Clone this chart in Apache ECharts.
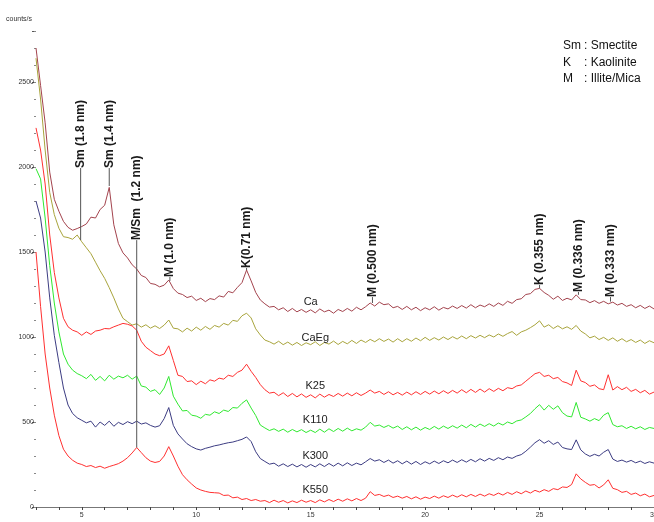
<!DOCTYPE html>
<html>
<head>
<meta charset="utf-8">
<script src="https://cdn.jsdelivr.net/npm/echarts@6/dist/echarts.min.js"></script>
<style>
html, body { margin: 0; padding: 0; background: #fff; }
#chart { width: 654px; height: 522px; }
</style>
</head>
<body>
<div id="chart"></div>
<script>
// 2-theta grid, 3.0 .. 30.0 in 0.2 deg steps (136 points)
var thetaStart = 3.0, thetaStep = 0.2, thetaCount = 136;
var twoTheta = [];
for (var i = 0; i < thetaCount; i++) {
	twoTheta.push(+(thetaStart + i * thetaStep).toFixed(1));
}

// counts/s, one row = 2 degrees
var ca = [
	2700, 2480, 2260, 1970, 1810, 1740, 1680, 1645, 1628, 1638,
	1650, 1665, 1705, 1700, 1750, 1775, 1880, 1660, 1550, 1495,
	1465, 1425, 1400, 1362, 1350, 1315, 1310, 1295, 1305, 1335,
	1285, 1258, 1250, 1232, 1240, 1215, 1228, 1208, 1226, 1220,
	1242, 1235, 1268, 1260, 1292, 1320, 1394, 1330, 1262, 1218,
	1195, 1176, 1180, 1160, 1172, 1150, 1168, 1148, 1162, 1145,
	1160, 1142, 1165, 1148, 1158, 1140, 1162, 1150, 1168, 1152,
	1175, 1160, 1178, 1200, 1182, 1205, 1190, 1195, 1172, 1180,
	1162, 1180, 1160, 1175, 1155, 1172, 1160, 1178, 1158, 1174,
	1165, 1182, 1168, 1185, 1170, 1190, 1172, 1188, 1178, 1195,
	1180, 1200, 1186, 1210, 1198, 1220, 1225, 1250, 1255, 1280,
	1286, 1262, 1245, 1222, 1240, 1215, 1228, 1218, 1248, 1220,
	1218, 1202, 1214, 1198, 1210, 1195, 1205, 1188, 1198, 1180,
	1190, 1172, 1186, 1168, 1182, 1165
];
var caEg = [
	2640, 2400, 2100, 1850, 1720, 1640, 1590, 1585, 1575, 1600,
	1560, 1525, 1490, 1440, 1390, 1345, 1290, 1230, 1165, 1110,
	1090, 1070, 1078, 1058, 1072, 1052, 1066, 1050, 1070, 1100,
	1052, 1048, 1030, 1052, 1035, 1058, 1040, 1062, 1045, 1068,
	1058, 1080, 1070, 1098, 1092, 1125, 1140, 1112, 1048, 1012,
	982, 972, 958, 975, 955, 970, 952, 968, 950, 966,
	955, 972, 950, 968, 958, 976, 956, 974, 960, 980,
	962, 982, 968, 986, 972, 990, 974, 988, 970, 990,
	972, 990, 975, 994, 978, 998, 980, 996, 982, 1000,
	985, 1002, 988, 1006, 990, 1008, 994, 1010, 996, 1012,
	1000, 1018, 1004, 1020, 1032, 1010, 1030, 1040, 1055, 1072,
	1095, 1058, 1072, 1050, 1066, 1048, 1060, 1045, 1068, 1035,
	1018, 995, 1005, 985, 998, 980, 995, 975, 990, 972,
	985, 968, 982, 962, 978, 966
];
var k25 = [
	2230, 2100, 1900, 1600, 1380, 1230, 1110, 1060, 1040, 1030,
	1010, 1030, 1015, 1035, 1040, 1050, 1048, 1060, 1070, 1080,
	1075, 1065, 1040, 975, 940, 920, 900, 890, 900, 948,
	862, 775, 768, 738, 742, 720, 740, 725, 748, 740,
	758, 752, 775, 768, 792, 805, 840, 798, 762, 720,
	690, 670, 675, 655, 672, 650, 668, 648, 665, 645,
	660, 642, 664, 646, 662, 650, 668, 652, 670, 654,
	672, 656, 670, 688, 670, 680, 662, 678, 660, 674,
	658, 676, 660, 678, 662, 680, 664, 682, 666, 684,
	668, 686, 670, 690, 672, 692, 674, 694, 676, 696,
	680, 698, 684, 702, 696, 712, 718, 740, 762, 784,
	792, 768, 775, 755, 762, 738, 730, 715, 805, 742,
	732, 710, 718, 696, 690, 778, 688, 708, 690, 704,
	680, 692, 672, 686, 664, 676
];
var k110 = [
	1990, 1930, 1700, 1420, 1200, 1030, 900, 840, 805, 785,
	772, 755, 780, 745, 768, 742, 775, 752, 770, 760,
	775, 752, 770, 712, 705, 680, 690, 662, 700, 768,
	652, 605, 565, 568, 540, 535, 522, 545, 540, 560,
	550, 570, 562, 585, 582, 610, 630, 582, 538, 482,
	465, 450, 460, 445, 458, 440, 456, 442, 455, 438,
	452, 438, 458, 440, 460, 444, 462, 446, 464, 448,
	460, 452, 470, 498, 476, 482, 468, 480, 464, 476,
	456, 472, 454, 470, 452, 468, 456, 474, 458, 476,
	462, 478, 464, 482, 466, 486, 470, 488, 474, 490,
	476, 494, 482, 500, 490, 506, 512, 530, 550, 578,
	602, 570, 598, 575, 595, 555, 535, 530, 615, 528,
	518, 505, 520, 508, 540, 555, 485, 472, 478, 462,
	475, 460, 472, 456, 468, 462
];
var k300 = [
	1800, 1700, 1500, 1230, 1010, 850, 700, 600, 550, 525,
	510, 495, 505, 470, 500, 480, 505, 475, 498, 485,
	502, 490, 505, 488, 495, 480, 470, 478, 520, 585,
	480, 430, 400, 372, 355, 342, 335, 345, 352, 360,
	365, 372, 378, 382, 390, 398, 412, 385, 325, 285,
	268, 252, 258, 240, 254, 238, 252, 236, 250, 234,
	250, 236, 254, 238, 256, 240, 258, 242, 260, 244,
	258, 248, 266, 285, 270, 278, 262, 276, 258, 272,
	254, 270, 252, 268, 250, 266, 254, 270, 256, 272,
	260, 276, 262, 278, 264, 280, 266, 284, 270, 286,
	274, 290, 278, 294, 286, 300, 308, 328, 352, 378,
	396, 375, 390, 368, 382, 350, 342, 338, 395, 336,
	312, 298, 310, 300, 322, 338, 282, 268, 276, 264,
	274, 260, 270, 256, 266, 258
];
var k550 = [
	1500, 1180, 900, 700, 540, 420, 340, 300, 275, 258,
	250, 238, 244, 232, 240, 228, 238, 246, 255, 270,
	290, 318, 350, 320, 290, 270, 262, 268, 300, 355,
	300, 240, 190, 160, 135, 112, 100, 92, 86, 84,
	82, 68, 70, 54, 58, 44, 50, 38, 44, 34,
	38, 26, 40, 28, 38, 24, 36, 26, 40, 28,
	38, 26, 42, 30, 44, 32, 46, 34, 48, 36,
	50, 38, 52, 90, 68, 74, 62, 70, 56, 64,
	52, 62, 48, 60, 46, 58, 50, 64, 52, 66,
	56, 70, 58, 72, 60, 74, 62, 76, 64, 78,
	68, 82, 70, 86, 74, 90, 78, 94, 82, 98,
	88, 102, 92, 108, 102, 118, 115, 132, 195, 165,
	145, 128, 132, 112, 130, 160, 110, 102, 86, 92,
	74, 82, 66, 76, 60, 68
];

var sampleNames = ["Ca", "CaEg", "K25", "K110", "K300", "K550"];
var sampleData = [ca, caEg, k25, k110, k300, k550];
var sampleColors = ["#a3434d", "#a8a43c", "#ff3030", "#30e830", "#3c3c82", "#ff3030"];
var sampleLabelX = [15.0, 15.2, 15.2, 15.2, 15.2, 15.2];
var sampleLabelY = [1206, 994, 712, 512, 300, 100];

// peak annotations: position, text foot, line end
var peakX = [4.95, 6.2, 7.4, 8.85, 12.2, 17.7, 25.0, 26.7, 28.1];
var peakTextFoot = [1994, 1994, 1570, 1353, 1406, 1235, 1306, 1265, 1235];
var peakLineEnd = [1570, 1888, 350, 1330, 1394, 1200, 1286, 1248, 1208];
var peakText = ["Sm (1.8 nm)", "Sm (1.4 nm)", "M/Sm  (1.2 nm)", "M (1.0 nm)", "K(0.71 nm)",
	"M (0.500 nm)", "K (0.355 nm)", "M (0.336 nm)", "M (0.333 nm)"];

var xLabelValues = [5, 10, 15, 20, 25, 30];
var xTickValues = [];
for (var t = 3; t <= 30; t++) xTickValues.push(t);
var yLabelValues = [0, 500, 1000, 1500, 2000, 2500];
var yMinorTicks = [];
for (var v = 0; v <= 2800; v += 100) yMinorTicks.push(v);

var legendKeys = ["Sm", "K", "M"];
var legendNames = [": Smectite", ": Kaolinite", ": Illite/Mica"];

var FONT = '"Liberation Sans", Arial, sans-serif';

var chart = echarts.init(document.getElementById("chart"), null, { renderer: "canvas" });

var series = [];
var $each = function(arr, fn) { for (var i = 0; i < arr.length; i++) fn(i, arr[i]); };

$each(sampleNames, function(i, name) {
	var pts = [];
	$each(sampleData[i], function(j, y) {
		pts.push([twoTheta[j], y]);
	});
	series.push({
		name: name,
		type: "line",
		data: pts,
		showSymbol: false,
		symbol: "none",
		lineStyle: { color: sampleColors[i], width: 1 },
		animation: false,
		z: 2 + i
	});
});

// sample names
series.push({
	type: "custom",
	data: sampleNames.map(function(n, i) { return [sampleLabelX[i], sampleLabelY[i]]; }),
	silent: true,
	clip: false,
	animation: false,
	z: 20,
	renderItem: function(params, api) {
		var p = api.coord([api.value(0), api.value(1)]);
		return {
			type: "text",
			x: p[0],
			y: p[1],
			style: {
				text: sampleNames[params.dataIndex],
				font: '11px ' + FONT,
				fill: "#222",
				align: "center",
				verticalAlign: "middle"
			}
		};
	}
});

// peak annotations
series.push({
	type: "custom",
	data: peakX.map(function(x, i) { return [x, peakTextFoot[i], peakLineEnd[i]]; }),
	silent: true,
	clip: false,
	animation: false,
	z: 30,
	renderItem: function(params, api) {
		var i = params.dataIndex,
			p0 = api.coord([api.value(0), api.value(1)]),
			p1 = api.coord([api.value(0), api.value(2)]);
		return {
			type: "group",
			children: [
				{
					type: "line",
					shape: { x1: p0[0], y1: p0[1], x2: p1[0], y2: p1[1] },
					style: { stroke: "#555", lineWidth: 1 }
				},
				{
					type: "text",
					x: p0[0],
					y: p0[1],
					rotation: Math.PI / 2,
					style: {
						text: peakText[i],
						font: 'bold 12px ' + FONT,
						fill: "#1a1a1a",
						align: "left",
						verticalAlign: "middle"
					}
				}
			]
		};
	}
});

var graphics = [
	{
		type: "text",
		left: 6,
		top: 16,
		style: { text: "counts/s", font: '7px ' + FONT, fill: "#333" }
	}
];
$each(legendKeys, function(i, k) {
	graphics.push({
		type: "text",
		left: 563,
		top: 40 + i * 16.3,
		style: { text: k, font: '12px ' + FONT, fill: "#111" }
	});
	graphics.push({
		type: "text",
		left: 584,
		top: 40 + i * 16.3,
		style: { text: legendNames[i], font: '12px ' + FONT, fill: "#111" }
	});
});

var opt = {
	backgroundColor: "#fff",
	animation: false,
	grid: {
		left: 36,
		right: 0,
		top: 31,
		bottom: 15,
		containLabel: false,
		outerBoundsMode: "none"
	},
	xAxis: [
		{
			type: "value",
			min: 3,
			max: 30,
			axisLine: { show: true, lineStyle: { color: "#444", width: 1 } },
			axisTick: { show: true, length: 3, customValues: xTickValues, lineStyle: { color: "#444" } },
			axisLabel: { show: true, customValues: xLabelValues, fontSize: 7, color: "#333", margin: 5, fontFamily: FONT },
			splitLine: { show: false }
		},
		{
			type: "value",
			position: "top",
			min: 3,
			max: 30,
			axisLine: { show: true, lineStyle: { color: "#777", width: 1 } },
			axisTick: { show: false },
			axisLabel: { show: false },
			splitLine: { show: false }
		}
	],
	yAxis: [
		{
			type: "value",
			min: 0,
			max: 2800,
			interval: 500,
			axisLine: { show: false },
			axisTick: { show: true, length: 4, lineStyle: { color: "#555" } },
			axisLabel: {
				fontSize: 7, color: "#333", margin: 2, fontFamily: FONT,
				customValues: yLabelValues,
				formatter: function(value) { return String(value); }
			},
			splitLine: { show: false }
		},
		{
			type: "value",
			position: "left",
			min: 0,
			max: 2800,
			axisLine: { show: false },
			axisTick: { show: true, length: 2, customValues: yMinorTicks, lineStyle: { color: "#888" } },
			axisLabel: { show: false },
			splitLine: { show: false }
		}
	],
	series: series,
	graphic: graphics
};

chart.setOption(opt);
</script>
</body>
</html>
